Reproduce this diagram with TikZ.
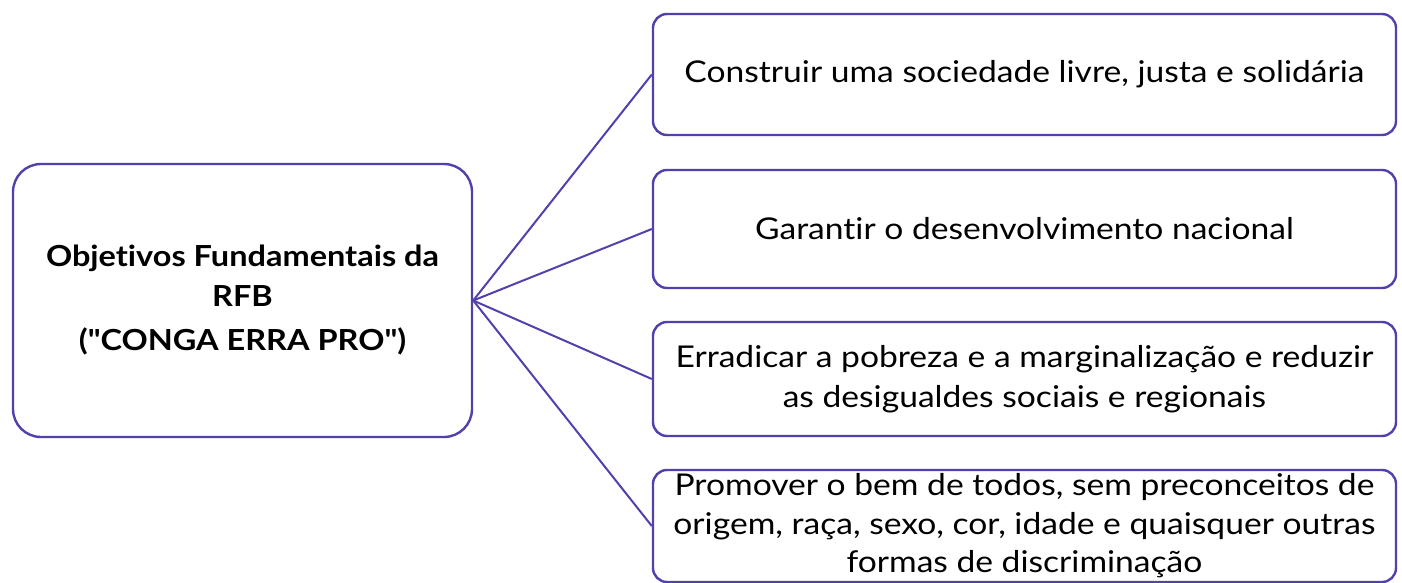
\documentclass[tikz,border=0pt]{standalone}
\usepackage{fontspec}
\setmainfont{Lato}[Ligatures={TeXOff,NoCommon},FakeStretch=1.12]
\definecolor{edge}{RGB}{82,64,172}
\begin{document}
\begin{tikzpicture}[x=1pt,y=-1pt,
  box/.style={draw=edge,line width=2.4pt,rounded corners=14pt,fill=white,inner sep=0pt,align=center,font=\fontsize{30}{39.5}\selectfont},
  link/.style={draw=edge,line width=2pt}]
\useasboundingbox (0,0) rectangle (1402,583);
\clip (0,0) rectangle (1402,583);
\node[box,rounded corners=28pt,minimum width=459pt,minimum height=273pt,font=\bfseries\fontsize{29}{40}\selectfont] (root) at (242.5,300.5) {Objetivos Fundamentais da\\RFB\\[4pt]("CONGA ERRA PRO")};
\node[box,minimum width=743pt,minimum height=121pt] (b1) at (1024.5,74.5) {Construir uma sociedade livre, justa e solidária};
\node[box,minimum width=743pt,minimum height=118pt] (b2) at (1024.5,229) {Garantir o desenvolvimento nacional};
\node[box,minimum width=743pt,minimum height=114pt] (b3) at (1024.5,379) {Erradicar a pobreza e a marginalização e reduzir\\as desigualdes sociais e regionais};
\node[box,minimum width=743pt,minimum height=112pt,font=\fontsize{30}{38.5}\selectfont] (b4) at (1024.5,526) {Promover o bem de todos, sem preconceitos de\\origem, raça, sexo, cor, idade e quaisquer outras\\formas de discriminação};
\foreach \b in {b1,b2,b3,b4}{\draw[link] (root.east) -- (\b.west);}
\end{tikzpicture}
\end{document}
